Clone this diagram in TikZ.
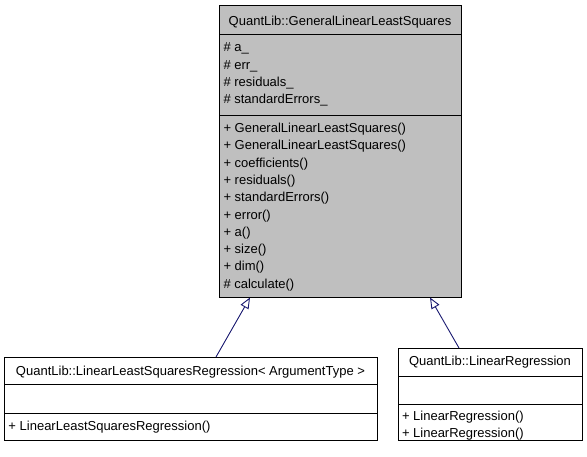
\documentclass[tikz,border=0pt]{standalone}
\usepackage{fontspec}
\setmainfont{Liberation Sans}
\usetikzlibrary{arrows.meta}
\definecolor{boxgray}{RGB}{191,191,191}
\definecolor{edgeblue}{RGB}{25,25,112}
\begin{document}
\begin{tikzpicture}[x=1pt,y=-1pt,
  box/.style={draw=black, line width=1pt, inner sep=0pt, outer sep=0pt, anchor=north west},
  sep/.style={draw=black, line width=1pt},
  txt/.style={inner sep=0pt, outer sep=0pt, font=\fontsize{13pt}{15pt}\selectfont},
  inh/.style={draw=edgeblue, line width=0.9pt, -{Triangle[open, length=11pt, width=9pt, fill=white]}}]
\useasboundingbox (0,0) rectangle (587,456);
% parent class
\node[box, fill=boxgray, minimum width=242pt, minimum height=292pt] (glls) at (219,5) {};
\draw[sep] (219,34) -- (461,34);
\draw[sep] (219,115) -- (461,115);
\node[txt, anchor=base] (gllsT) at (340,25) {QuantLib::GeneralLinearLeastSquares};
\node[txt, anchor=base west] (ga1) at (223.5,51.5) {\# a\_};
\node[txt, anchor=base west] (ga2) at (223.5,69) {\# err\_};
\node[txt, anchor=base west] (ga3) at (223.5,86.4) {\# residuals\_};
\node[txt, anchor=base west] (ga4) at (223.5,103.8) {\# standardErrors\_};
\node[txt, anchor=base west] (gm1) at (223.5,132.7) {+ GeneralLinearLeastSquares()};
\node[txt, anchor=base west] (gm2) at (223.5,149.95) {+ GeneralLinearLeastSquares()};
\node[txt, anchor=base west] (gm3) at (223.5,167.2) {+ coefficients()};
\node[txt, anchor=base west] (gm4) at (223.5,184.5) {+ residuals()};
\node[txt, anchor=base west] (gm5) at (223.5,201.7) {+ standardErrors()};
\node[txt, anchor=base west] (gm6) at (223.5,219) {+ error()};
\node[txt, anchor=base west] (gm7) at (223.5,236.2) {+ a()};
\node[txt, anchor=base west] (gm8) at (223.5,253.5) {+ size()};
\node[txt, anchor=base west] (gm9) at (223.5,270.7) {+ dim()};
\node[txt, anchor=base west] (gm10) at (223.5,288) {\# calculate()};
% left child
\node[box, fill=white, minimum width=373pt, minimum height=83pt] (llsr) at (4,357) {};
\draw[sep] (4,384) -- (377,384);
\draw[sep] (4,413) -- (377,413);
\node[txt, anchor=base] (llsrT) at (190.5,375) {QuantLib::LinearLeastSquaresRegression< ArgumentType >};
\node[txt, anchor=base west] (lm1) at (8.5,430) {+ LinearLeastSquaresRegression()};
% right child
\node[box, fill=white, minimum width=184pt, minimum height=92pt] (lr) at (398,348) {};
\draw[sep] (398,376) -- (582,376);
\draw[sep] (398,404) -- (582,404);
\node[txt, anchor=base] (lrT) at (490,365) {QuantLib::LinearRegression};
\node[txt, anchor=base west] (rm1) at (402,420.5) {+ LinearRegression()};
\node[txt, anchor=base west] (rm2) at (402,437.7) {+ LinearRegression()};
% inheritance
\coordinate (c1) at (216,357);
\coordinate (p1) at (250,297.5);
\coordinate (c2) at (459,348);
\coordinate (p2) at (430,297.5);
\draw[inh] (c1) -- (p1);
\draw[inh] (c2) -- (p2);
\end{tikzpicture}
\end{document}
